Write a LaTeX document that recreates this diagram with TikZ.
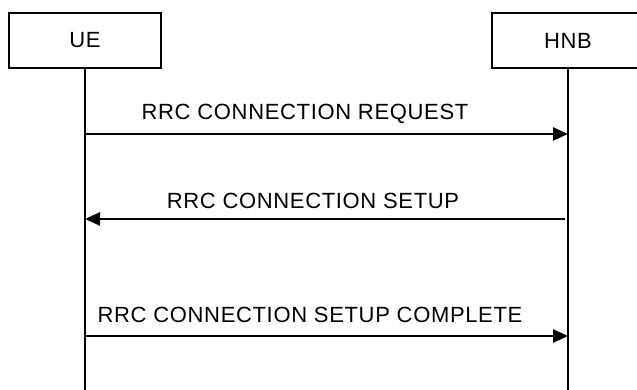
\documentclass[tikz,border=0pt]{standalone}
\usepackage{fontspec}
\setmainfont{Liberation Sans}[LetterSpace=3]
\usetikzlibrary{arrows.meta}

\tikzset{
  entity/.style={draw, line width=2pt, minimum width=152pt, minimum height=55pt, inner sep=0pt},
  lifeline/.style={line width=2pt},
  msg/.style={line width=2.6pt, -{Triangle[length=15pt,width=13pt]}},
  msglabel/.style={anchor=base, inner sep=0pt}
}

\begin{document}
\begin{tikzpicture}[x=1pt,y=-1pt,font=\fontsize{22}{26}\selectfont]

\useasboundingbox (0,0) rectangle (637,390);
\clip (0,0) rectangle (637,390);

% Draw the entities
\node[entity] (ue) at (85,40.5) {UE};
\node[entity] (hnb) at (568,40.5) {HNB};

% Draw the lifelines
\coordinate (ueend) at (85,392);
\coordinate (hnbend) at (568,392);
\draw[lifeline] (ue.south) -- (ueend);
\draw[lifeline] (hnb.south) -- (hnbend);

% Points on the lifelines
\coordinate (ue1) at (85,134);
\coordinate (hnb1) at (568,134);
\coordinate (ue2) at (85,219);
\coordinate (hnb2) at (565,219);
\coordinate (ue3) at (85,336);
\coordinate (hnb3) at (568,336);

% Draw the messages
\draw[msg] (ue1) -- (hnb1);
\draw[msg] (hnb2) -- (ue2);
\draw[msg] (ue3) -- (hnb3);

% Draw the labels
\node[msglabel] (req) at (305,120) {RRC CONNECTION REQUEST};
\node[msglabel] (setup) at (313,208) {RRC CONNECTION SETUP};
\node[msglabel] (compl) at (310,322) {RRC CONNECTION SETUP COMPLETE};

\end{tikzpicture}
\end{document}
